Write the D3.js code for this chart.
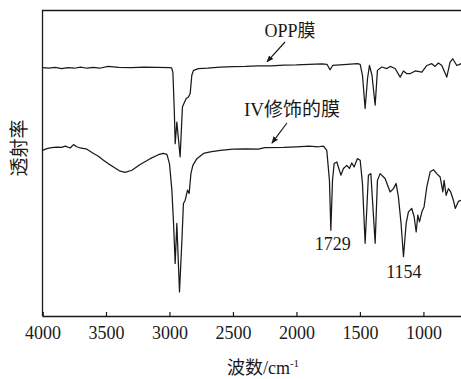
<!DOCTYPE html>
<html>
<head>
<meta charset="utf-8">
<script src="https://cdn.jsdelivr.net/npm/d3@7"></script>
<style>
  html, body { margin: 0; padding: 0; background: #fff; }
  svg { display: block; }
  text { font-family: "Liberation Serif", "Times New Roman", "Noto Sans CJK SC", serif; fill: #1a1a1a; }
</style>
</head>
<body>
<svg id="chart" width="461" height="379"></svg>
<script>
// ---- data (wavenumber cm^-1, transmittance a.u.) ----
const xTicks = [4000, 3500, 3000, 2500, 2000, 1500, 1000];

const oppWavenumber = [4000,3950,3900,3850,3800,3750,3700,3650,3600,3550,3483,3400,3300,3200,3100,3000,2983,2973,2962,2955,2942,2916,2898,2882,2868,2850,2837,2824,2811,2772,2700,2600,2500,2400,2300,2200,2100,2000,1900,1800,1760,1735,1715,1600,1520,1498,1480,1459,1440,1425,1405,1380,1362,1328,1288,1262,1223,1183,1157,1130,1105,1065,1012,973,934,908,882,855,816,790,769,737,703];
const oppT = [81.3,81.1,81.4,81.0,81.3,81.1,81.5,81.1,81.4,81.1,81.7,81.4,81.3,81.5,81.4,81.3,81.2,79.7,67.3,56.4,63.5,52.1,68.4,70.0,71.2,71.7,72.8,78.8,80.4,81.0,81.1,81.5,81.6,81.7,81.9,81.9,82.1,82.2,82.4,82.5,82.4,80.6,82.0,82.4,82.6,82.4,78.8,67.9,77.8,82.0,78.8,69.0,80.4,81.5,81.0,81.7,81.0,78.2,80.2,79.3,79.3,80.2,79.8,82.0,82.6,81.7,82.8,82.0,78.2,83.1,84.2,82.0,82.6];

const ivWavenumber = [4000,3965,3930,3887,3850,3821,3782,3756,3730,3703,3650,3598,3560,3520,3480,3441,3388,3349,3296,3231,3152,3087,3050,3020,3000,2981,2968,2955,2942,2921,2902,2890,2876,2858,2845,2831,2816,2784,2732,2679,2600,2500,2400,2300,2250,2100,2000,1900,1827,1787,1761,1740,1729,1716,1703,1682,1650,1630,1603,1583,1564,1546,1520,1498,1480,1459,1433,1414,1380,1362,1341,1302,1262,1236,1215,1197,1176,1157,1136,1118,1092,1073,1057,1044,1031,1012,995,973,947,921,895,868,847,837,821,803,785,764,749,725,703];
const ivT = [54.2,54.8,55.1,55.3,55.2,55.6,55.0,56.1,55.4,55.0,54.6,53.2,52.3,51.0,49.8,48.8,47.4,47.0,47.7,49.6,51.5,52.8,53.2,52.9,49.9,41.2,30.4,17.2,30.3,7.9,24.8,36.8,37.9,41.2,40.1,46.6,49.3,51.5,53.2,53.7,54.2,54.6,54.7,54.6,55.1,55.2,55.4,55.6,55.4,55.6,54.2,44.4,28.1,44.4,49.9,50.4,46.1,48.3,49.3,48.3,50.1,48.8,51.5,51.0,43.4,23.8,46.1,46.6,23.8,44.4,46.6,45.0,40.6,41.7,43.4,39.0,30.3,19.4,30.3,34.1,35.2,32.5,27.5,33.0,30.8,34.1,35.7,42.3,47.2,47.9,46.6,45.5,40.6,44.4,39.5,41.7,40.6,37.9,35.2,37.5,37.9];

const seriesLabels = ["OPP膜", "IV修饰的膜"];
const peakLabels = [{wn: 1729, text: "1729"}, {wn: 1154, text: "1154"}];
const xTitle = "波数/cm";
const yTitle = "透射率";

// ---- layout ----
const svg = d3.select("#chart");
const mLeft = 42.5, mRight = 461.5, mTop = 10.5, mBottom = 316;

const x = d3.scaleLinear().domain([4000, 700]).range([mLeft, mRight]);
const y = d3.scaleLinear().domain([0, 100]).range([mBottom, mTop]);

const ink = "#1a1a1a";
const defs = svg.append("defs");

// frame (top and left lines + bottom axis)
svg.append("path")
  .attr("d", `M${mLeft},${mBottom} L${mLeft},${mTop} L${mRight},${mTop}`)
  .attr("fill", "none").attr("stroke", ink).attr("stroke-width", 1.3);

const xAxis = d3.axisBottom(x).tickValues(xTicks).tickSize(-4).tickPadding(10).tickFormat(d3.format("d"));
const gx = svg.append("g").attr("transform", `translate(0,${mBottom})`).call(xAxis);
gx.select(".domain").attr("stroke", ink).attr("stroke-width", 1.3);
gx.selectAll(".tick line").attr("stroke", ink).attr("stroke-width", 1.2);
gx.selectAll(".tick text")
  .attr("font-size", 18).attr("fill", ink)
  .attr("font-family", "'Liberation Serif','Times New Roman',serif");

// spectra
const line = d3.line().x(d => x(d[0])).y(d => y(d[1]));
const opp = oppWavenumber.map((w, i) => [w, oppT[i]]);
const iv = ivWavenumber.map((w, i) => [w, ivT[i]]);

defs.append("clipPath").attr("id", "clip")
  .append("rect").attr("x", mLeft).attr("y", mTop).attr("width", mRight - mLeft).attr("height", mBottom - mTop);

[opp, iv].forEach(s => {
  svg.append("path").datum(s)
    .attr("clip-path", "url(#clip)")
    .attr("d", line)
    .attr("fill", "none").attr("stroke", ink).attr("stroke-width", 1.25)
    .attr("stroke-linejoin", "round");
});

// arrow marker
defs.append("marker")
  .attr("id", "arrow").attr("viewBox", "0 0 10 10").attr("refX", 9).attr("refY", 5)
  .attr("markerWidth", 7).attr("markerHeight", 7).attr("markerUnits", "userSpaceOnUse").attr("orient", "auto")
  .append("path").attr("d", "M0,1 L10,5 L0,9 Z").attr("fill", ink);

// annotations
const annCJK = "'Liberation Serif','Times New Roman','Noto Sans CJK SC',serif";
svg.append("text").attr("x", 290).attr("y", 37).attr("text-anchor", "middle")
  .attr("font-size", 18).attr("font-family", annCJK).text(seriesLabels[0]);
svg.append("line").attr("x1", x(2090)).attr("y1", 42).attr("x2", x(2232)).attr("y2", y(83.2))
  .attr("stroke", ink).attr("stroke-width", 1.2).attr("marker-end", "url(#arrow)");

svg.append("text").attr("x", 292).attr("y", 116).attr("text-anchor", "middle")
  .attr("font-size", 19).attr("font-family", annCJK).text(seriesLabels[1]);
svg.append("line").attr("x1", x(2075)).attr("y1", 123).attr("x2", x(2193)).attr("y2", y(56.6))
  .attr("stroke", ink).attr("stroke-width", 1.2).attr("marker-end", "url(#arrow)");

svg.append("text").attr("x", x(peakLabels[0].wn) + 2).attr("y", 250).attr("text-anchor", "middle")
  .attr("font-size", 18).text(peakLabels[0].text);
svg.append("text").attr("x", x(peakLabels[1].wn)).attr("y", 278).attr("text-anchor", "middle")
  .attr("font-size", 18).text(peakLabels[1].text);

// axis titles
const xt = svg.append("text").attr("x", 263).attr("y", 374).attr("text-anchor", "middle")
  .attr("font-size", 18).attr("font-family", annCJK);
xt.append("tspan").text(xTitle);
xt.append("tspan").attr("font-size", 11).attr("dy", -7).text("-1");

svg.append("text").attr("transform", "translate(26,148) rotate(-90)").attr("text-anchor", "middle")
  .attr("font-size", 19).attr("font-family", annCJK).text(yTitle);
</script>
</body>
</html>
